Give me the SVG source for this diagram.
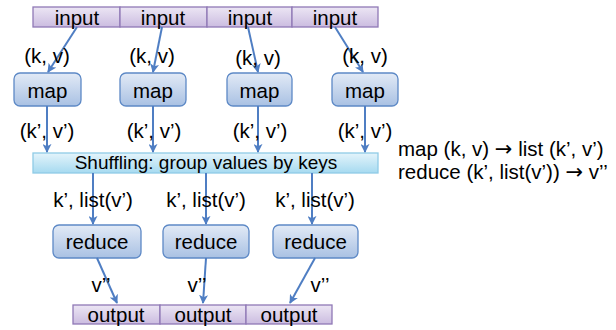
<svg xmlns="http://www.w3.org/2000/svg" width="616" height="330" viewBox="0 0 616 330">
<defs>
<linearGradient id="gPurple" x1="0" y1="0" x2="0" y2="1"><stop offset="0" stop-color="#ECE6F4"/><stop offset="1" stop-color="#CBBCE0"/></linearGradient>
<linearGradient id="gBlue" x1="0" y1="0" x2="0" y2="1"><stop offset="0" stop-color="#E2EAF6"/><stop offset="1" stop-color="#A9C1E3"/></linearGradient>
<linearGradient id="gCyan" x1="0" y1="0" x2="0" y2="1"><stop offset="0" stop-color="#E4F4FB"/><stop offset="1" stop-color="#A6DAF0"/></linearGradient>
<marker id="ah" viewBox="0 0 10 10" refX="9" refY="5" markerWidth="4.5" markerHeight="4.5" orient="auto" markerUnits="strokeWidth"><path d="M0,0 L10,5 L0,10 L2.5,5 z" fill="#4F7EC3"/></marker>
</defs>
<style>
text{font-family:"Liberation Sans",Arial,sans-serif;fill:#000}
.arr{font-family:"DejaVu Sans",sans-serif;font-size:21px}
.cell{fill:url(#gPurple);stroke:#9079B6;stroke-width:1.3}
.box{fill:url(#gBlue);stroke:#5D89C6;stroke-width:1.3}
.shuf{fill:url(#gCyan);stroke:#8FCBE6;stroke-width:1.3}
.lbl{font-size:20.5px;text-anchor:middle}
.big{font-size:20.5px;text-anchor:middle}
.conn line{stroke:#4F7EC3;stroke-width:2;marker-end:url(#ah)}
</style>
<g id="inputs">
<rect class="cell" x="33" y="7" width="87" height="20"/>
<rect class="cell" x="120" y="7" width="87" height="20"/>
<rect class="cell" x="207" y="7" width="85" height="20"/>
<rect class="cell" x="292" y="7" width="86" height="20"/>
<text class="big" x="77" y="25">input</text>
<text class="big" x="163" y="25">input</text>
<text class="big" x="250" y="25">input</text>
<text class="big" x="335" y="25">input</text>
</g>
<g id="map1"><rect class="box" x="14" y="73" width="67" height="33" rx="6"/><text class="big" x="47.5" y="98">map</text></g>
<g id="map2"><rect class="box" x="120" y="73" width="66" height="33" rx="6"/><text class="big" x="153" y="98">map</text></g>
<g id="map3"><rect class="box" x="227" y="73" width="65" height="33" rx="6"/><text class="big" x="259.5" y="98">map</text></g>
<g id="map4"><rect class="box" x="332" y="73" width="66" height="33" rx="6"/><text class="big" x="365" y="98">map</text></g>
<g id="shuffle"><rect class="shuf" x="33" y="153" width="345" height="20"/><text x="206" y="169" font-size="19" text-anchor="middle">Shuffling: group values by keys</text></g>
<g id="reduce1"><rect class="box" x="53" y="225" width="88" height="33" rx="6"/><text class="big" x="97" y="249">reduce</text></g>
<g id="reduce2"><rect class="box" x="163" y="225" width="86" height="33" rx="6"/><text class="big" x="206" y="249">reduce</text></g>
<g id="reduce3"><rect class="box" x="273" y="225" width="85" height="33" rx="6"/><text class="big" x="315.5" y="249">reduce</text></g>
<g id="outputs">
<rect class="cell" x="73" y="305" width="87" height="19"/>
<rect class="cell" x="160" y="305" width="86" height="19"/>
<rect class="cell" x="246" y="305" width="86" height="19"/>
<text class="big" x="116" y="322">output</text>
<text class="big" x="203" y="322">output</text>
<text class="big" x="289" y="322">output</text>
</g>
<g class="conn">
<line x1="77" y1="27" x2="48" y2="72"/>
<line x1="162" y1="27" x2="153" y2="72"/>
<line x1="248" y1="27" x2="258" y2="72"/>
<line x1="335" y1="27" x2="363" y2="72"/>
<line x1="47" y1="106" x2="47" y2="152"/>
<line x1="153" y1="106" x2="153" y2="152"/>
<line x1="258" y1="106" x2="258" y2="152"/>
<line x1="365" y1="106" x2="365" y2="152"/>
<line x1="93" y1="173" x2="93" y2="224"/>
<line x1="206" y1="173" x2="206" y2="224"/>
<line x1="312" y1="173" x2="312" y2="224"/>
<line x1="97" y1="258" x2="117" y2="303"/>
<line x1="206" y1="258" x2="203" y2="303"/>
<line x1="315" y1="258" x2="290" y2="303"/>
</g>
<g id="labels">
<text class="lbl" x="47" y="63">(k, v)</text>
<text class="lbl" x="152" y="63">(k, v)</text>
<text class="lbl" x="258" y="65">(k, v)</text>
<text class="lbl" x="365" y="63">(k, v)</text>
<text class="lbl" x="47" y="138">(k’, v’)</text>
<text class="lbl" x="154" y="138">(k’, v’)</text>
<text class="lbl" x="260" y="138">(k’, v’)</text>
<text class="lbl" x="365" y="138">(k’, v’)</text>
<text class="lbl" x="93" y="207">k’, list(v’)</text>
<text class="lbl" x="206" y="207">k’, list(v’)</text>
<text class="lbl" x="315" y="207">k’, list(v’)</text>
<text class="lbl" x="101" y="292">v’’</text>
<text class="lbl" x="197" y="292">v’’</text>
<text class="lbl" x="320" y="292">v’’</text>
<text x="398" y="156" font-size="20.5">map (k, v) <tspan class="arr">→</tspan> list (k’, v’)</text>
<text x="398" y="179" font-size="20.5">reduce (k’, list(v’)) <tspan class="arr">→</tspan> v’’</text>
</g>
</svg>
